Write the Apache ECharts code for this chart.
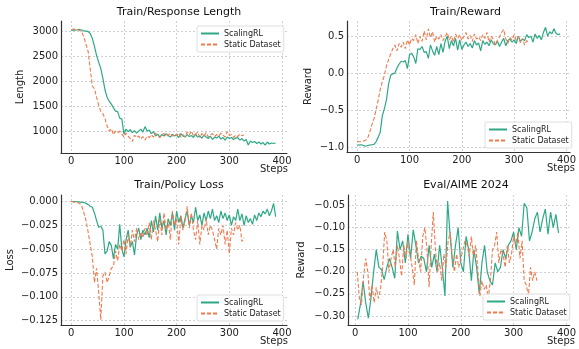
<!DOCTYPE html>
<html><head><meta charset="utf-8">
<script src="https://cdn.jsdelivr.net/npm/echarts@6/dist/echarts.min.js"></script>
<style>html,body{margin:0;padding:0;background:#fff}#c{width:579px;height:349px}</style>
</head><body><div id="c"></div>
<script>
// ---------- data ----------
const seriesNames = ['ScalingRL', 'Static Dataset'];
const panelTitles = ['Train/Response Length', 'Train/Reward', 'Train/Policy Loss', 'Eval/AIME 2024'];
const yNames = ['Length', 'Reward', 'Loss', 'Reward'];
const xName = 'Steps';
const xTicks = [0, 100, 200, 300, 400];
const lenTicks = [1000, 1500, 2000, 2500, 3000];
const rewTicks = [-1.0, -0.5, 0.0, 0.5];
const lossTicks = [-0.125, -0.1, -0.075, -0.05, -0.025, 0.0];
const aimeTicks = [-0.3, -0.25, -0.2, -0.15, -0.1, -0.05];

const stepsRL = [0,4,8,12,16,20,24,28,32,36,
40,44,48,52,56,60,64,68,72,76,
80,84,88,92,96,100,104,108,112,116,
120,124,128,132,136,140,144,148,152,156,
160,164,168,172,176,180,184,188,192,196,
200,204,208,212,216,220,224,228,232,236,
240,244,248,252,256,260,264,268,272,276,
280,284,288,292,296,300,304,308,312,316,
320,324,328,332,336,340,344,348,352,356,
360,364,368,372,376,380,384,388];
const stepsSD = [0,4,8,12,16,20,24,28,32,36,
40,44,48,52,56,60,64,68,72,76,
80,84,88,92,96,100,104,108,112,116,
120,124,128,132,136,140,144,148,152,156,
160,164,168,172,176,180,184,188,192,196,
200,204,208,212,216,220,224,228,232,236,
240,244,248,252,256,260,264,268,272,276,
280,284,288,292,296,300,304,308,312,316,
320,324,328];

const lenRL = [3020,3030,3025,3035,3040,3030,3010,3005,3000,2960,
2860,2700,2520,2380,2260,2060,1830,1680,1600,1540,
1470,1400,1390,1260,1240,940,1040,990,1030,970,
1010,960,1000,1040,980,1090,1000,1020,950,990,
900,940,880,930,900,950,910,880,930,900,
920,870,950,900,880,930,890,910,870,940,
880,900,860,920,880,850,900,830,880,860,
900,840,870,820,880,850,870,830,860,870,
820,850,800,830,720,800,770,790,750,780,
740,770,720,780,740,760,750,760];
const lenSD = [3040,3050,3045,3040,3020,2990,2880,2740,2600,2250,
1900,1850,1680,1520,1400,1350,1250,1100,1000,1050,
930,1000,960,1000,940,880,960,900,850,790,
920,870,900,840,890,820,900,870,930,880,
960,900,870,930,950,890,920,960,900,940,
910,960,880,930,890,980,920,1000,900,940,
980,870,950,900,970,880,920,950,890,930,
900,960,920,880,990,910,930,870,920,890,
940,910,920];

const rewRL = [-0.97,-0.975,-0.97,-0.98,-0.99,-0.98,-0.975,-0.97,-0.965,-0.93,
-0.87,-0.80,-0.58,-0.48,-0.36,-0.15,-0.03,-0.01,0.00,0.07,
0.12,0.16,0.15,0.17,0.06,0.25,0.27,0.22,0.13,0.33,
0.32,0.36,0.28,0.29,0.20,0.38,0.30,0.24,0.36,0.25,
0.40,0.28,0.43,0.50,0.33,0.44,0.37,0.47,0.31,0.45,
0.32,0.38,0.42,0.36,0.40,0.34,0.44,0.38,0.41,0.30,
0.44,0.39,0.42,0.37,0.45,0.40,0.38,0.43,0.36,0.42,
0.47,0.37,0.44,0.46,0.42,0.45,0.40,0.50,0.43,0.46,
0.44,0.52,0.48,0.50,0.42,0.53,0.47,0.51,0.45,0.55,
0.62,0.50,0.56,0.53,0.60,0.54,0.52,0.53];
const rewSD = [-0.92,-0.93,-0.93,-0.92,-0.91,-0.88,-0.80,-0.70,-0.62,-0.50,
-0.37,-0.22,-0.12,-0.03,0.10,0.18,0.26,0.33,0.38,0.30,
0.40,0.35,0.42,0.33,0.45,0.38,0.47,0.44,0.52,0.40,
0.50,0.43,0.57,0.45,0.60,0.48,0.56,0.42,0.50,0.46,
0.52,0.44,0.49,0.55,0.45,0.50,0.42,0.53,0.47,0.52,
0.44,0.50,0.55,0.46,0.51,0.43,0.53,0.46,0.49,0.44,
0.52,0.47,0.55,0.42,0.50,0.46,0.38,0.45,0.49,0.55,
0.59,0.46,0.40,0.48,0.45,0.52,0.44,0.50,0.41,0.47,
0.38,0.44,0.42];

const lossRL = [0,0,0,-0.0005,-0.0005,-0.001,-0.001,-0.002,-0.003,-0.005,
-0.006,-0.012,-0.020,-0.027,-0.026,-0.030,-0.055,-0.052,-0.042,-0.046,
-0.060,-0.045,-0.050,-0.024,-0.050,-0.058,-0.040,-0.030,-0.048,-0.042,
-0.056,-0.035,-0.028,-0.040,-0.030,-0.035,-0.028,-0.038,-0.020,-0.032,
-0.015,-0.030,-0.012,-0.028,-0.020,-0.035,-0.018,-0.025,-0.012,-0.030,
-0.010,-0.022,-0.015,-0.028,-0.018,-0.010,-0.025,-0.015,-0.022,-0.006,
-0.020,-0.014,-0.025,-0.012,-0.020,-0.010,-0.018,-0.008,-0.020,-0.015,
-0.022,-0.010,-0.018,-0.012,-0.020,-0.014,-0.025,-0.016,-0.020,-0.008,
-0.020,-0.013,-0.025,-0.015,-0.022,-0.018,-0.024,-0.014,-0.020,-0.012,
-0.016,-0.010,-0.013,-0.008,-0.015,-0.010,-0.002,-0.016];
const lossSD = [0,-0.0005,-0.001,-0.001,-0.002,-0.005,-0.012,-0.020,-0.032,-0.045,
-0.058,-0.085,-0.070,-0.095,-0.124,-0.078,-0.074,-0.085,-0.078,-0.070,
-0.068,-0.052,-0.062,-0.045,-0.052,-0.040,-0.055,-0.035,-0.048,-0.030,
-0.042,-0.028,-0.040,-0.032,-0.038,-0.028,-0.036,-0.022,-0.040,-0.020,
-0.030,-0.042,-0.018,-0.035,-0.012,-0.030,-0.020,-0.040,-0.010,-0.025,
-0.018,-0.045,-0.015,-0.030,-0.020,-0.005,-0.028,-0.012,-0.030,-0.040,
-0.020,-0.045,-0.025,-0.030,-0.018,-0.035,-0.025,-0.030,-0.040,-0.050,
-0.028,-0.035,-0.025,-0.045,-0.030,-0.055,-0.028,-0.035,-0.022,-0.030,
-0.025,-0.042,-0.038];

const evalStepsRL = [5,10,15,20,25,30,35,40,45,50,
55,60,65,70,75,80,85,90,95,100,
105,110,115,120,125,130,135,140,145,150,
155,160,165,170,175,180,185,190,195,200,
205,210,215,220,225,230,235,240,245,250,
255,260,265,270,275,280,285,290,295,300,
305,310,315,320,325,330,335,340,345,350,
355,360,365,370,375,380,385];
const aimeRL = [-0.308,-0.274,-0.222,-0.27,-0.305,-0.26,-0.20,-0.15,-0.19,-0.195,
-0.218,-0.19,-0.17,-0.19,-0.215,-0.108,-0.15,-0.13,-0.18,-0.115,
-0.17,-0.105,-0.14,-0.18,-0.165,-0.17,-0.20,-0.14,-0.19,-0.16,
-0.20,-0.14,-0.19,-0.255,-0.04,-0.12,-0.19,-0.14,-0.10,-0.18,
-0.20,-0.12,-0.15,-0.22,-0.15,-0.19,-0.25,-0.18,-0.14,-0.20,
-0.22,-0.23,-0.18,-0.20,-0.19,-0.15,-0.17,-0.14,-0.13,-0.11,
-0.15,-0.10,-0.12,-0.045,-0.055,-0.13,-0.11,-0.08,-0.065,-0.11,
-0.08,-0.058,-0.115,-0.065,-0.10,-0.07,-0.112];
const evalStepsSD = [4,8,12,16,20,24,28,32,36,40,
44,48,52,56,60,64,68,72,76,80,
84,88,92,96,100,104,108,112,116,120,
124,128,132,136,140,144,148,152,156,160,
164,168,172,176,180,184,188,192,196,200,
204,208,212,216,220,224,228,232,236,240,
244,248,252,256,260,264,268,272,276,280,
284,288,292,296,300,304,308,312,316,320,
324,328,332,336,340,344];
const aimeSD = [-0.20,-0.26,-0.275,-0.21,-0.17,-0.20,-0.265,-0.23,-0.27,-0.235,
-0.26,-0.24,-0.19,-0.11,-0.13,-0.20,-0.17,-0.15,-0.19,-0.14,
-0.17,-0.21,-0.14,-0.17,-0.13,-0.16,-0.19,-0.23,-0.13,-0.17,
-0.20,-0.12,-0.10,-0.15,-0.235,-0.14,-0.065,-0.15,-0.20,-0.18,
-0.22,-0.16,-0.19,-0.13,-0.11,-0.17,-0.20,-0.16,-0.19,-0.17,
-0.15,-0.13,-0.14,-0.165,-0.12,-0.17,-0.14,-0.19,-0.255,-0.22,
-0.24,-0.23,-0.26,-0.22,-0.15,-0.14,-0.11,-0.18,-0.15,-0.16,
-0.19,-0.14,-0.18,-0.16,-0.12,-0.14,-0.11,-0.17,-0.13,-0.22,
-0.23,-0.255,-0.19,-0.22,-0.20,-0.22];

// ---------- chart ----------
const FONT = 'DejaVu Sans';
const GREEN = '#2ea886';
const ORANGE = '#ef7a4e';
const pair = (xs, ys) => xs.map((x, i) => [x, ys[i]]);
const minus = s => s.replace('-', '\u2212');

const grids = [
  {left: 61, top: 21, width: 226, height: 132},
  {left: 347, top: 21, width: 227, height: 131},
  {left: 61, top: 195, width: 226, height: 130},
  {left: 348, top: 195, width: 226, height: 130}
];
const xRanges = [[-19.5, 409.5], [-19.5, 407], [-19.5, 409.5], [-13.5, 406]];
const yRanges = [[560, 3210], [-1.068, 0.705], [-0.1295, 0.0068], [-0.3205, -0.0262]];
const yTickSets = [lenTicks, rewTicks, lossTicks, aimeTicks];
const yDecimals = [0, 1, 3, 2];
const yNameGaps = [36, 34, 46, 42];
const legendPos = [[197, 26], [485, 122], [197, 295], [483, 294]];

const gridLine = {show: true, lineStyle: {color: '#c4c4c4', width: 0.8, type: [2, 2]}};

const option = {
  animation: false,
  backgroundColor: '#fff',
  textStyle: {fontFamily: FONT},
  title: grids.map((g, i) => ({
    text: panelTitles[i],
    left: g.left + g.width / 2,
    top: i < 2 ? 2 : 175,
    textAlign: 'center',
    textStyle: {fontSize: 11, fontWeight: 'normal', color: '#111', fontFamily: FONT}
  })),
  grid: grids.map(g => Object.assign({containLabel: false}, g)),
  legend: legendPos.map(p => ({
    data: seriesNames,
    orient: 'vertical',
    left: p[0], top: p[1],
    itemWidth: 18, itemHeight: 8, itemGap: 2,
    padding: [3, 3],
    borderColor: '#d6d6d6', borderWidth: 0.8, borderRadius: 2,
    backgroundColor: 'rgba(255,255,255,0.85)',
    selectedMode: false,
    itemStyle: {opacity: 0},
    textStyle: {fontSize: 8, color: '#222', fontFamily: FONT, lineHeight: 9}
  })),
  graphic: grids.map(g => ({
    type: 'text',
    x: g.left + g.width + 1,
    y: g.top + g.height + 11,
    style: {text: xName, fontSize: 10, fill: '#222', fontFamily: FONT, align: 'right', verticalAlign: 'top'}
  })),
  xAxis: grids.map((g, i) => ({
    type: 'value', gridIndex: i,
    min: xRanges[i][0], max: xRanges[i][1],
    axisLine: {show: true, onZero: false, lineStyle: {color: '#333', width: 1.2}},
    axisTick: {show: false, customValues: xTicks},
    axisLabel: {customValues: xTicks, fontSize: 10, color: '#222', margin: 3, fontFamily: FONT},
    splitLine: gridLine
  })),
  yAxis: grids.map((g, i) => ({
    type: 'value', gridIndex: i,
    min: yRanges[i][0], max: yRanges[i][1],
    name: yNames[i], nameLocation: 'middle', nameGap: yNameGaps[i],
    nameTextStyle: {fontSize: 10, color: '#222', fontFamily: FONT},
    axisLine: {show: true, onZero: false, lineStyle: {color: '#333', width: 1.2}},
    axisTick: {show: false, customValues: yTickSets[i]},
    axisLabel: {customValues: yTickSets[i], fontSize: 10, color: '#222', margin: 3, fontFamily: FONT,
      formatter: v => minus(Number(v).toFixed(yDecimals[i]))},
    splitLine: gridLine
  })),
  series: []
};

const panels = [
  [pair(stepsRL, lenRL), pair(stepsSD, lenSD)],
  [pair(stepsRL, rewRL), pair(stepsSD, rewSD)],
  [pair(stepsRL, lossRL), pair(stepsSD, lossSD)],
  [pair(evalStepsRL, aimeRL), pair(evalStepsSD, aimeSD)]
];
panels.forEach((p, i) => {
  option.series.push({
    name: seriesNames[0], type: 'line', xAxisIndex: i, yAxisIndex: i,
    data: p[0], symbol: 'none', showSymbol: false,
    lineStyle: {color: GREEN, width: 1.2}, itemStyle: {color: GREEN}
  });
  option.series.push({
    name: seriesNames[1], type: 'line', xAxisIndex: i, yAxisIndex: i,
    data: p[1], symbol: 'none', showSymbol: false,
    lineStyle: {color: ORANGE, width: 1.1, type: [4, 2]}, itemStyle: {color: ORANGE}
  });
});

const chart = echarts.init(document.getElementById('c'), null, {renderer: 'canvas'});
chart.setOption(option);
</script>
</body></html>
